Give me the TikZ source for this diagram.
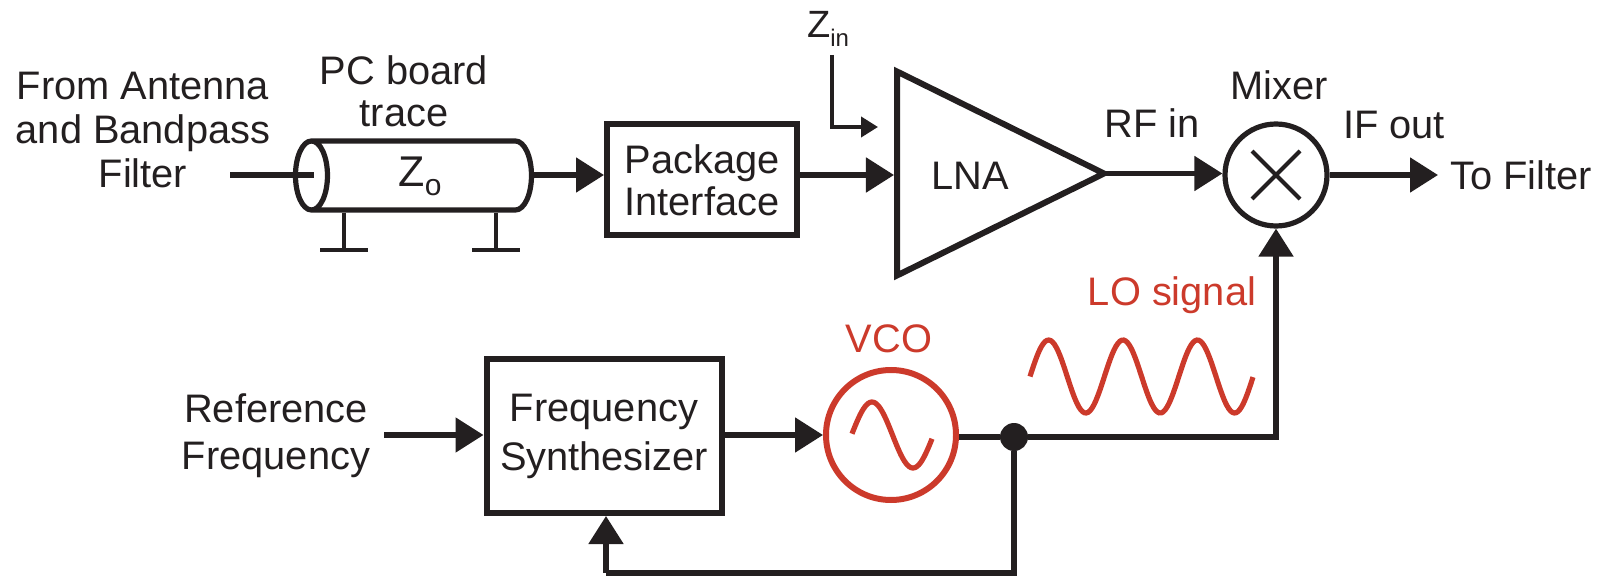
\documentclass[tikz,border=0pt]{standalone}
\usepackage{fontspec}
\setmainfont{Liberation Sans}
\usepackage{xcolor}
\usetikzlibrary{shapes.geometric, arrows.meta, positioning}
\definecolor{inkline}{HTML}{231F20}
\definecolor{oscred}{HTML}{CC3A2B}
\newcommand{\zsym}[3]{{\fontsize{#1}{#1}\selectfont Z}\raisebox{-4.5pt}{\fontsize{#2}{#2}\selectfont #3}}
\tikzset{
  txt/.style={text=inkline, font=\fontsize{19.9}{22}\selectfont, align=center, inner sep=0pt},
  redtxt/.style={txt, text=oscred},
  blockbox/.style={rectangle, draw=inkline, line width=3pt, txt},
  arrow/.style={-{Triangle[length=14pt,width=17pt]}, draw=inkline, line width=2.6pt},
  smallarrow/.style={-{Triangle[length=8.5pt,width=10pt]}, draw=inkline, line width=2pt},
  wire/.style={draw=inkline, line width=2.6pt},
  gnd/.style={draw=inkline, line width=2pt},
  wave/.style={draw=oscred, line width=2.6pt},
}

\begin{document}
\begin{tikzpicture}[x=0.5pt, y=-0.5pt]
  \useasboundingbox (0,0) rectangle (1606,577);

  % top row
  \node[cylinder, shape border rotate=180, aspect=2.4, draw=inkline, line width=2.6pt,
        minimum height=118pt, minimum width=34.5pt] (trace) at (427.5,175.5) {};
  \node[blockbox, minimum width=95pt, minimum height=55.5pt] (pkg) at (702,180) {Package\\[-1pt]Interface};
  \node[isosceles triangle, isosceles triangle stretches, draw=inkline, line width=3pt,
        minimum width=102pt, minimum height=103.5pt, anchor=lower side] (lna) at (894,173.5) {};
  \node[circle, draw=inkline, line width=2.6pt, minimum size=51pt, inner sep=0pt] (mixer) at (1276,175) {};

  % top row labels
  \node[txt] (source) at (143,130) {From Antenna\\and Bandpass\\Filter};
  \node[txt] (tracetxt) at (404,91) {PC board\\[-1pt]trace};
  \node[txt] (ztxt) at (420,176) {\zsym{21.5}{15}{o}};
  \node[txt] (zin) at (828,29) {\zsym{19}{12}{in}};
  \node[txt] (lnatxt) at (970,176) {LNA};
  \node[txt] (rfin) at (1152,123) {RF in};
  \node[txt, above=10.5pt of mixer, xshift=1.5pt] (mixertxt) {Mixer};
  \node[txt] (ifout) at (1394,125) {IF out};
  \node[txt] (tofilter) at (1521,175) {To Filter};

  % bottom row
  \node[blockbox, minimum width=117.5pt, minimum height=77pt] (synth) at (604,436) {Frequency\\[2.5pt]Synthesizer};
  \node[circle, draw=oscred, line width=3pt, minimum size=65pt, inner sep=0pt] (vco) at (891,435) {};
  \node[circle, fill=inkline, minimum size=14pt, inner sep=0pt] (junc) at (1014,437) {};
  \node[txt] (reftxt) at (276,436) {Reference\\[1.5pt]Frequency};
  \node[redtxt, above=7pt of vco, xshift=-1pt] (vcotxt) {VCO};
  \node[redtxt] (lotxt) at (1172,295) {LO signal};

  % free ends
  \coordinate (inp) at (230,175);
  \coordinate (inpend) at (314,175);
  \coordinate (zstart) at (832,55);
  \coordinate (zend) at (878,127);
  \coordinate (outp) at (1438,175);
  \coordinate (refp) at (384,435);
  \coordinate (fb) at (606,573);
  \coordinate (gndl) at (344,250);
  \coordinate (gndr) at (496,250);

  \draw[wire] (inp) -- (inpend);
  \draw[gnd] (gndl |- trace.south) -- (gndl);
  \draw[gnd] (gndr |- trace.south) -- (gndr);
  \draw[gnd] ([xshift=-12pt]gndl) -- ([xshift=12pt]gndl);
  \draw[gnd] ([xshift=-12pt]gndr) -- ([xshift=12pt]gndr);
  \draw[arrow] (trace.east |- inp) -- (pkg.west |- inp);
  \draw[arrow] (pkg.east |- inp) -- (lna.west |- inp);
  \draw[smallarrow] (zstart) |- (zend);
  \draw[arrow, shorten <=-3pt] (lna.apex) -- (mixer.west |- lna.apex);
  \draw[arrow] (mixer.east) -- (outp);
  \draw[gnd] (mixer.center) +(-24,-24) -- +(24,24);
  \draw[gnd] (mixer.center) +(-24,24) -- +(24,-24);

  \draw[arrow] (refp) -- (synth.west |- refp);
  \draw[arrow] (synth.east |- vco) -- (vco.west);
  \draw[wire] (vco.east |- junc) -- (junc);
  \draw[arrow] (junc) -| (mixer.south);
  \draw[wire] (junc) |- (fb);
  \draw[arrow] (fb) -- (fb |- synth.south);

  % sine waves
  \draw[wave] plot[domain=0:80, samples=50, smooth] ({852+\x}, {435-33*sin(360/82*(\x+0.5))});
  \draw[wave] plot[domain=0:223, samples=120, smooth] ({1030+\x}, {376.5-36.5*sin(360/74.4*\x)});
\end{tikzpicture}
\end{document}
